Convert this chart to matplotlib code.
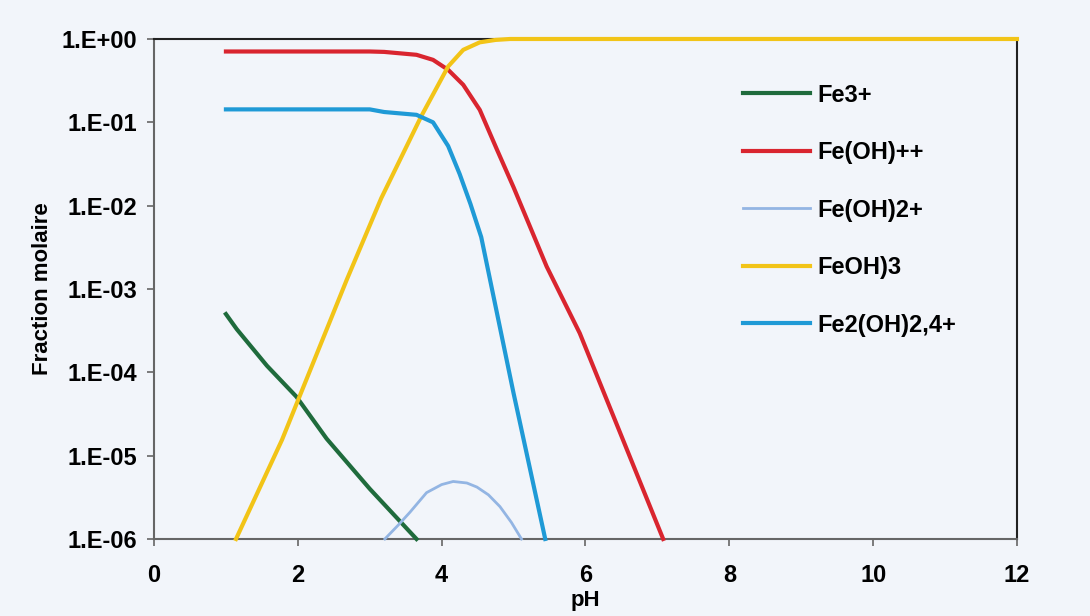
import numpy as np
import matplotlib
matplotlib.use("Agg")
import matplotlib.pyplot as plt
from matplotlib.ticker import FixedLocator, FixedFormatter, NullLocator

# values (pH, molar fraction)
ph_fe3 = [1.0, 1.15, 1.57, 1.98, 2.40, 3.0, 3.65]
fe3 = [5.0e-4, 3.3e-4, 1.2e-4, 5.1e-5, 1.6e-5, 4.0e-6, 1.0e-6]

ph_feoh = [1.0, 2.0, 3.0, 3.2, 3.65, 3.88, 4.09, 4.3, 4.53, 4.77, 5.0, 5.46, 5.92, 6.39, 7.08]
feoh = [0.708, 0.708, 0.708, 0.70, 0.646, 0.562, 0.427, 0.282, 0.141, 0.0468, 0.0166,
        1.86e-3, 2.95e-4, 2.95e-5, 1.0e-6]

ph_feoh2 = [3.21, 3.4, 3.56, 3.79, 4.0, 4.16, 4.35, 4.49, 4.65, 4.81, 4.97, 5.11]
feoh2 = [1.0e-6, 1.48e-6, 2.1e-6, 3.6e-6, 4.5e-6, 4.9e-6, 4.7e-6, 4.2e-6, 3.39e-6, 2.45e-6,
         1.58e-6, 1.0e-6]

ph_feoh3 = [1.14, 1.78, 2.68, 3.16, 3.72, 4.09, 4.3, 4.53, 4.75, 4.95, 12.0]
feoh3 = [1.0e-6, 1.55e-5, 1.29e-3, 0.0123, 0.120, 0.468, 0.741, 0.912, 0.975, 1.0, 1.0]

ph_fe2 = [1.0, 3.0, 3.2, 3.65, 3.88, 4.09, 4.25, 4.4, 4.55, 5.0, 5.08, 5.44]
fe2 = [0.143, 0.143, 0.133, 0.123, 0.100, 0.052, 0.024, 0.0105, 4.2e-3, 5.6e-5, 2.7e-5, 1.0e-6]

y_ticks = [1e-6, 1e-5, 1e-4, 1e-3, 1e-2, 1e-1, 1.0]
y_labels = ["1.E-06", "1.E-05", "1.E-04", "1.E-03", "1.E-02", "1.E-01", "1.E+00"]
x_ticks = [0, 2, 4, 6, 8, 10, 12]

plt.rcParams['font.family'] = ['Liberation Sans', 'DejaVu Sans']
plt.rcParams['font.weight'] = 'bold'

bg = '#f2f5fa'
fig = plt.figure(figsize=(10.9, 6.16), dpi=100, facecolor=bg)
ax = fig.add_axes([0.1413, 0.125, 0.7917, 0.8117], facecolor=bg)

ax.plot(ph_fe3, fe3, color='#1f6b3c', lw=3.0, label='Fe3+', zorder=3, clip_on=False)
ax.plot(ph_feoh, feoh, color='#d9252f', lw=3.0, label='Fe(OH)++', zorder=3, clip_on=False)
ax.plot(ph_feoh2, feoh2, color='#93b5e3', lw=2.0, label='Fe(OH)2+', zorder=3, clip_on=False)
ax.plot(ph_feoh3, feoh3, color='#f2c417', lw=3.0, label='FeOH)3', zorder=3, clip_on=False)
ax.plot(ph_fe2, fe2, color='#1f9ad6', lw=3.0, label='Fe2(OH)2,4+', zorder=3, clip_on=False)

ax.set_yscale('log')
ax.set_ylim(1e-6, 1.0)
ax.set_xlim(0, 12)
ax.yaxis.set_major_locator(FixedLocator(y_ticks))
ax.yaxis.set_major_formatter(FixedFormatter(y_labels))
ax.yaxis.set_minor_locator(NullLocator())
ax.set_xticks(x_ticks)

for side in ['left', 'bottom']:
    ax.spines[side].set_color('#666666')
    ax.spines[side].set_linewidth(1.5)
for side in ['top', 'right']:
    ax.spines[side].set_color('#222222')
    ax.spines[side].set_linewidth(1.5)

ax.tick_params(axis='x', direction='out', length=5, width=1.2, color='#666666',
               labelsize=17, pad=13)
ax.tick_params(axis='y', direction='out', length=5, width=1.2, color='#666666',
               labelsize=17, pad=7)

ax.set_xlabel('pH', fontsize=16, fontweight='bold', labelpad=2)
ax.set_ylabel('Fraction molaire', fontsize=16, fontweight='bold', labelpad=6)

ax.legend(loc='center left', bbox_to_anchor=(0.673, 0.659), bbox_transform=fig.transFigure,
          frameon=False, fontsize=17, handlelength=2.85, handletextpad=0.3,
          labelspacing=1.46, borderpad=0.4, borderaxespad=0)

fig.savefig('out.png', dpi=100, facecolor=bg)
